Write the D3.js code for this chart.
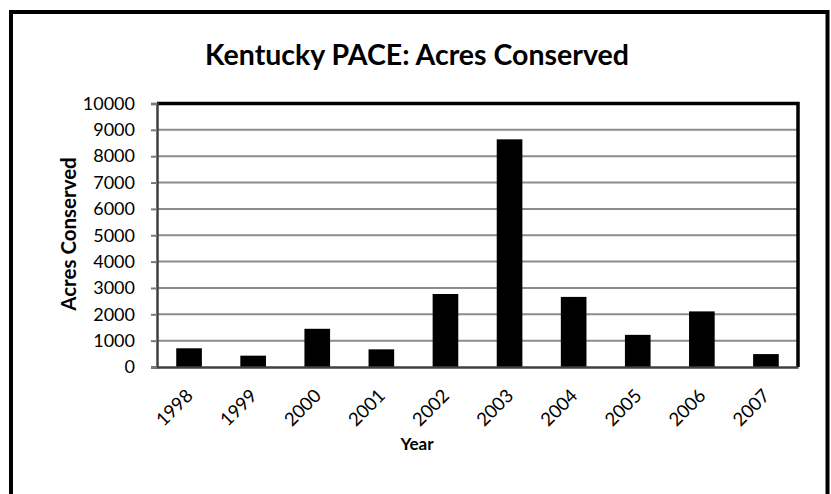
<!DOCTYPE html>
<html>
<head>
<meta charset="utf-8">
<script src="https://cdn.jsdelivr.net/npm/d3@7"></script>
<style>
  body { margin: 0; background: #fff; }
  text { font-family: Lato, "Open Sans", sans-serif; fill: #000; }
</style>
</head>
<body>
<svg id="chart" width="831" height="494"></svg>
<script>
// chart values
const years = ['1998', '1999', '2000', '2001', '2002', '2003', '2004', '2005', '2006', '2007'];
const acres = [710, 430, 1450, 670, 2770, 8640, 2660, 1220, 2110, 490];
const yTicks = [0, 1000, 2000, 3000, 4000, 5000, 6000, 7000, 8000, 9000, 10000];

const svg = d3.select('#chart');

const plot = { left: 157, right: 798, top: 103.5, bottom: 367 };

let x = d3.scaleBand()
    .domain(years)
    .range([plot.left, plot.right])
    .paddingInner(0.6)
    .paddingOuter(0.3);

let y = d3.scaleLinear()
    .domain([0, 10000])
    .range([plot.bottom, plot.top]);

// outer chart border (bottom edge is off the picture)
svg.append('rect')
    .attr('x', 11).attr('y', 12)
    .attr('width', 816.5).attr('height', 500)
    .attr('fill', 'none')
    .attr('stroke', '#000')
    .attr('stroke-width', 4);

svg.append('text')
    .attr('x', 417).attr('y', 65)
    .attr('text-anchor', 'middle')
    .attr('font-size', '28.5px')
    .attr('font-weight', 'bold')
    .text('Kentucky PACE: Acres Conserved');

// gridlines
svg.append('g')
    .selectAll('line')
    .data(yTicks.filter(d => d > 0 && d < 10000))
    .enter()
    .append('line')
        .attr('x1', plot.left).attr('x2', plot.right)
        .attr('y1', d => y(d)).attr('y2', d => y(d))
        .attr('stroke', '#8c8c8c')
        .attr('stroke-width', 2);

// bars
svg.append('g')
    .selectAll('rect')
    .data(years)
    .enter()
    .append('rect')
        .attr('x', d => x(d))
        .attr('y', (d, i) => y(acres[i]))
        .attr('width', x.bandwidth())
        .attr('height', (d, i) => y(0) - y(acres[i]))
        .attr('fill', '#000');

// top and right frame of plot area
svg.append('path')
    .attr('d', `M${plot.left},${plot.top}H${plot.right}V${plot.bottom}`)
    .attr('fill', 'none')
    .attr('stroke', '#000')
    .attr('stroke-width', 3.5);

// y axis
let yAxis = svg.append('g')
    .attr('transform', `translate(${plot.left},0)`)
    .call(d3.axisLeft(y).tickValues(yTicks).tickFormat(d3.format('d')).tickSize(6).tickPadding(16));
yAxis.select('.domain').attr('stroke', '#404040').attr('stroke-width', 2.5);
yAxis.selectAll('.tick line').attr('stroke', '#7a7a7a').attr('stroke-width', 2);
yAxis.selectAll('.tick text')
    .attr('font-size', '18px')
    .attr('font-family', 'Lato, sans-serif')
    .attr('fill', '#000');

// x axis
let xAxis = svg.append('g')
    .attr('transform', `translate(0,${plot.bottom})`)
    .call(d3.axisBottom(x).tickSize(0).tickPadding(0));
xAxis.select('.domain').attr('stroke', '#404040').attr('stroke-width', 2.5);
xAxis.selectAll('.tick text')
    .attr('font-size', '18.5px')
    .attr('font-family', 'Lato, sans-serif')
    .attr('fill', '#000')
    .attr('text-anchor', 'end')
    .attr('dy', 0)
    .attr('transform', 'translate(5,30) rotate(-45)');

// axis titles
svg.append('text')
    .attr('transform', 'translate(76,234) rotate(-90)')
    .attr('text-anchor', 'middle')
    .attr('font-size', '20.5px')
    .attr('font-weight', 'bold')
    .text('Acres Conserved');

svg.append('text')
    .attr('x', 417).attr('y', 450)
    .attr('text-anchor', 'middle')
    .attr('font-size', '17px')
    .attr('font-weight', 'bold')
    .text('Year');
</script>
</body>
</html>
